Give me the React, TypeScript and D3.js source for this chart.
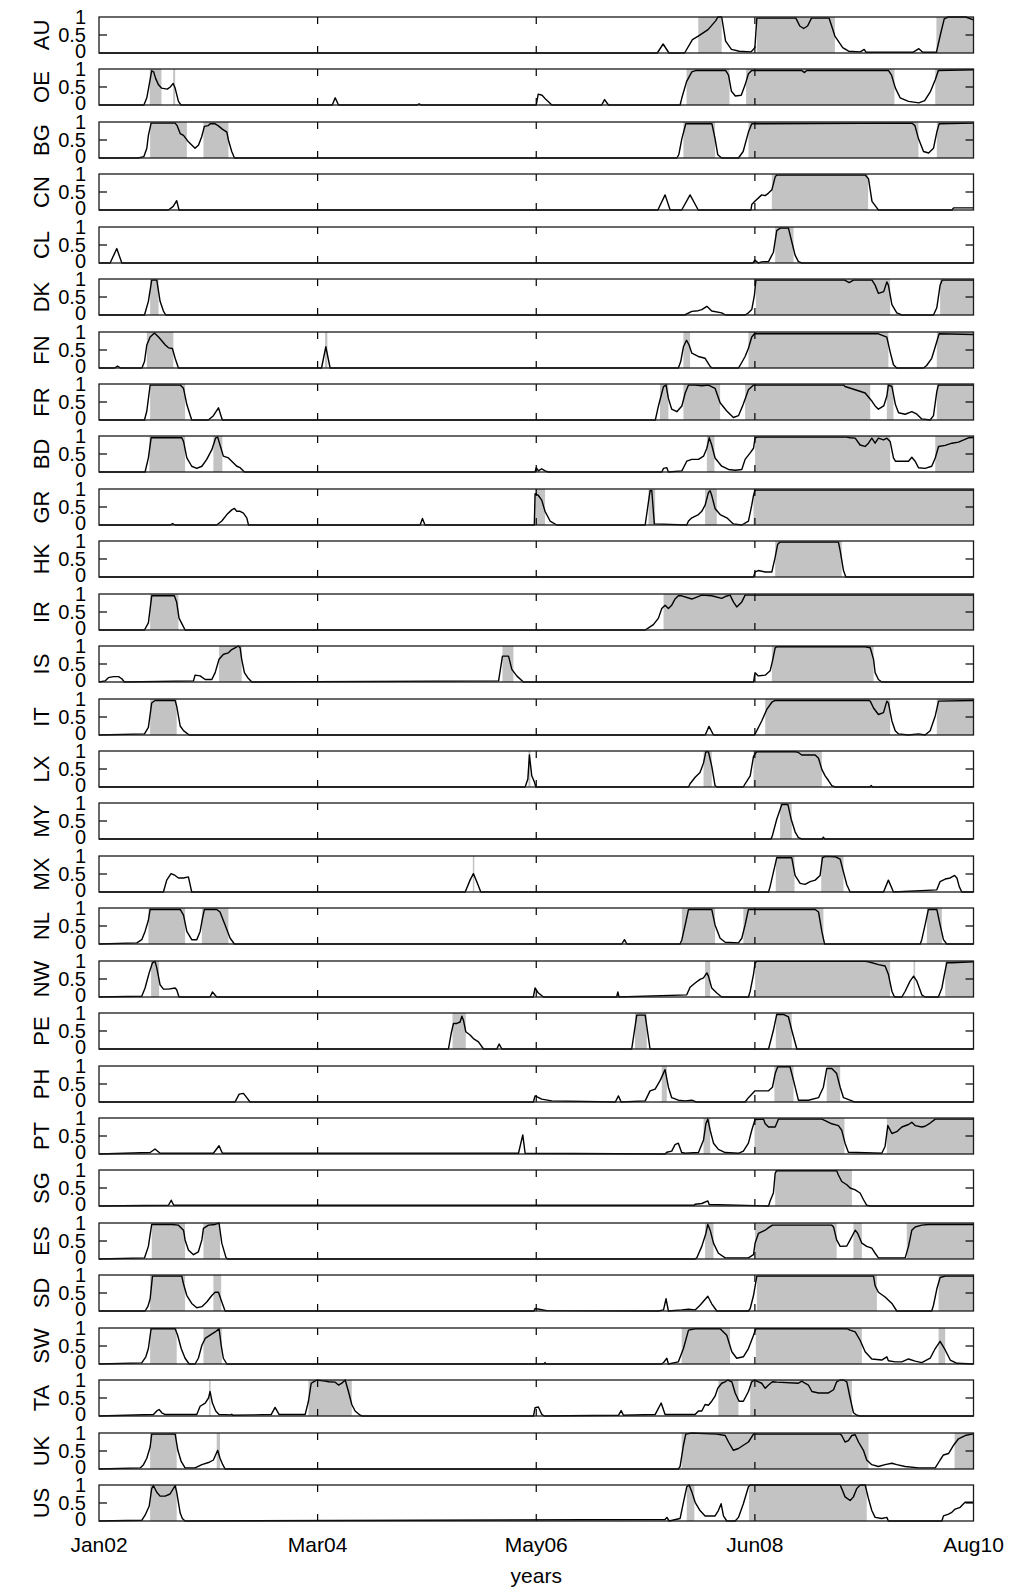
import * as d3 from 'd3'

type Pt = [number, number]
type Span = [number, number]

// x axis: weekly observations, Jan 2002 .. Aug 2010
const nWeeks = 448
const tickWeeks = [0, 112, 224, 336, 448]
const tickLabels = ['Jan02', 'Mar04', 'May06', 'Jun08', 'Aug10']
const yTicks = [0, 0.5, 1]
const yTickLabels = ['0', '0.5', '1']

const countries = ['AU', 'OE', 'BG', 'CN', 'CL', 'DK', 'FN', 'FR', 'BD', 'GR', 'HK', 'IR', 'IS', 'IT', 'LX', 'MY', 'MX', 'NL', 'NW', 'PE', 'PH', 'PT', 'SG', 'ES', 'SD', 'SW', 'TA', 'UK', 'US']

// smoothed probability, [week, prob]
const AU: Pt[] = [[0,0],[286,0],[289,0.25],[292,0],[300,0],[304,0.37],[307,0.47],[312,0.65],[316,0.9],[317,1],[319,1],[321,0.33],[324,0.1],[328,0.05],[334,0.03],[336,0.15],[337,0.97],[357,0.97],[359,0.75],[361,0.68],[363,0.75],[365,0.97],[374,0.97],[377,0.47],[381,0.15],[384,0.05],[390,0.03],[392,0.1],[393,0.02],[417,0.02],[420,0.12],[422,0.02],[429,0.02],[431,0.5],[433,0.95],[435,1],[444,1],[448,0.92]]
const OE: Pt[] = [[0,0],[23,0],[24.5,0.2],[26,0.65],[27,0.95],[28,0.92],[29,0.74],[30.5,0.56],[32,0.47],[35,0.44],[36.5,0.5],[38,0.6],[39,0.47],[40.7,0.1],[42,0],[119.5,0],[121,0.2],[122.7,0],[163,0],[164,0.03],[165,0],[224,0],[225,0.3],[227,0.27],[229,0.15],[232,0],[257.5,0],[259,0.15],[261,0],[297.7,0],[298.6,0.2],[301,0.65],[303.7,0.92],[306,0.96],[321,0.96],[322.5,0.83],[324,0.38],[326,0.25],[329,0.27],[331,0.56],[332.7,0.87],[334.4,0.96],[360,0.96],[361.4,0.9],[362.6,0.96],[404.4,0.96],[406,0.83],[408,0.47],[410.4,0.2],[414.7,0.1],[420,0.06],[423,0.12],[426,0.38],[428.4,0.7],[430,0.96],[448,0.98]]
const BG: Pt[] = [[0,0],[20,0],[23,0.04],[24.5,0.27],[25.3,0.63],[26.7,0.97],[39,0.97],[40,0.9],[41.6,0.68],[43.3,0.63],[45.8,0.45],[49.2,0.27],[51,0.36],[52.6,0.59],[54,0.88],[56,0.9],[57,0.95],[59.5,0.95],[61,0.9],[63,0.81],[65.5,0.72],[66.3,0.5],[68,0.18],[69.4,0],[296,0],[297,0.09],[298.6,0.54],[300.6,0.95],[314,0.95],[315.6,0.54],[317,0.09],[319,0],[327.6,0],[330,0.18],[332.7,0.72],[334.4,0.95],[416.4,0.97],[418,0.9],[419.8,0.54],[422.4,0.18],[425,0.14],[427.5,0.27],[429.2,0.72],[430.4,0.95],[448,0.97]]
const CN: Pt[] = [[0,0],[35.6,0],[38,0.1],[39.8,0.26],[41,0],[286.3,0],[290,0.42],[292.6,0],[298.5,0],[302.8,0.42],[307,0],[334,0],[334.4,0.15],[336,0.24],[339.5,0.42],[341.3,0.4],[343,0.47],[344.7,0.56],[346.4,0.92],[347.2,0.97],[392.5,0.97],[394.2,0.87],[396,0.24],[398.5,0.06],[399.3,0],[437,0],[437.8,0.06],[448,0.06]]
const CL: Pt[] = [[0,0],[5.7,0],[9.1,0.4],[11.7,0],[335,0],[336,0.08],[337.8,0],[339.5,0.03],[343,0.04],[345.5,0.3],[347.2,0.9],[349,0.97],[353.2,0.97],[355,0.57],[356.6,0.22],[358.3,0.04],[360,0],[448,0]]
const DK: Pt[] = [[0,0],[23.3,0],[25.3,0.38],[27,0.97],[29.6,0.97],[31.3,0.38],[33,0.11],[34.2,0],[300,0],[303.7,0.1],[307,0.12],[308.8,0.15],[311.4,0.24],[312.2,0.2],[313.9,0.11],[319,0.06],[321,0],[331,0],[332.7,0.06],[334.4,0.15],[335.8,0.56],[336.5,0.97],[382,0.97],[384.3,0.9],[386.5,0.97],[396,0.97],[397.6,0.83],[399.3,0.6],[402,0.65],[403.6,0.92],[404.4,0.83],[406.2,0.29],[408.7,0.06],[411.3,0],[427.5,0],[429.2,0.2],[430.9,0.83],[432,0.97],[448,0.97]]
const FN: Pt[] = [[0,0],[8,0],[9.5,0.05],[11,0],[22,0],[23.3,0.18],[24.5,0.64],[26.2,0.86],[28.4,0.97],[30.5,0.86],[34,0.64],[35.6,0.56],[37.6,0.54],[39,0.27],[40.7,0],[114,0],[116.2,0.59],[118.4,0],[296.8,0],[298,0.18],[299.4,0.59],[301,0.77],[302.3,0.64],[303.7,0.41],[307,0.32],[310.5,0.27],[313,0.05],[314,0],[327.6,0],[328.4,0.07],[331,0.32],[332.7,0.55],[334.4,0.86],[335.8,0.95],[399.3,0.95],[403.6,0.86],[405.3,0.45],[407,0.09],[408.7,0],[422.4,0],[424,0.07],[426.6,0.27],[428.4,0.59],[430.4,0.95],[448,0.93]]
const FR: Pt[] = [[0,0],[23.3,0],[24.5,0.25],[26.2,0.97],[41.6,0.97],[43.3,0.88],[45,0.43],[47.5,0],[56,0],[58.6,0.12],[61.2,0.34],[63.2,0],[285,0],[286.6,0.39],[289.2,0.93],[290.5,0.97],[291.7,0.6],[293.4,0.3],[296,0.23],[298.6,0.39],[300.3,0.75],[302,0.97],[305.4,0.97],[308.8,0.95],[312.2,0.97],[315.6,0.88],[318.2,0.48],[321.6,0.25],[325,0.07],[327.6,0.12],[330,0.43],[332.7,0.84],[335.3,0.97],[381.4,0.97],[382.2,0.93],[387.4,0.84],[392.5,0.75],[396,0.52],[397.6,0.39],[399.3,0.3],[402,0.39],[403.6,0.66],[404.4,0.97],[406.2,0.93],[408,0.43],[409.6,0.2],[413,0.16],[416.4,0.23],[419,0.16],[421.5,0.03],[425.8,0],[427.5,0.12],[429.2,0.79],[430,0.97],[448,0.97]]
const BD: Pt[] = [[0,0],[23.6,0],[25.3,0.39],[26.7,0.95],[42.4,0.95],[43.3,0.85],[45,0.39],[47.5,0.16],[50.1,0.1],[52.7,0.16],[55.2,0.35],[57.8,0.62],[59.8,0.95],[60.8,0.97],[62,0.75],[63.7,0.44],[66.3,0.39],[68,0.3],[70.6,0.16],[72.3,0.12],[74,0.03],[74.5,0],[223.4,0],[224,0.12],[225.1,0.03],[226.8,0.09],[228.5,0.03],[230.2,0],[288.3,0],[289.2,0.1],[290.9,0.12],[291.7,0],[298.6,0.03],[301.1,0.3],[303.7,0.35],[307.1,0.35],[309.7,0.44],[311.4,0.66],[312.6,0.95],[313.9,0.75],[315.6,0.39],[319,0.16],[322.5,0.07],[325.9,0.05],[329.3,0.07],[331,0.35],[333.6,0.53],[335.3,0.66],[336.1,0.94],[337,0.97],[383,0.97],[384.8,0.95],[387.4,0.94],[389.9,0.75],[392.5,0.71],[394.2,0.8],[395.9,0.94],[397.6,0.8],[399.3,0.94],[401.9,0.89],[403.6,0.94],[405.3,0.85],[407,0.39],[408,0.3],[414.7,0.3],[416.4,0.41],[418.1,0.3],[419.8,0.12],[423.2,0.1],[426.6,0.16],[428.4,0.39],[430.1,0.71],[433.5,0.74],[437,0.8],[440.3,0.83],[443,0.89],[445.4,0.95],[448,0.96]]
const GR: Pt[] = [[0,0],[36.4,0],[37.7,0.04],[39,0],[60.3,0],[62.9,0.11],[65.5,0.29],[68,0.42],[69.4,0.46],[70.6,0.38],[72.3,0.38],[74,0.33],[75.7,0.2],[76.6,0],[164.5,0],[165.7,0.18],[167,0],[223,0],[223.4,0.87],[225.1,0.82],[226.8,0.69],[228.5,0.38],[231.1,0.11],[234.5,0],[279.8,0],[282.3,0.95],[283.2,0.95],[284.5,0.03],[301.1,0],[302,0.11],[303.7,0.2],[307.1,0.29],[308.8,0.38],[310.5,0.55],[312.2,0.9],[313.1,0.95],[313.9,0.82],[315.6,0.46],[318.2,0.29],[321.6,0.2],[325,0.03],[329.3,0],[332.7,0.11],[334.4,0.55],[335.3,0.82],[336.1,0.97],[448,0.97]]
const HK: Pt[] = [[0,0],[335.3,0],[336.1,0.14],[337.8,0.18],[341.3,0.14],[344.7,0.14],[346.4,0.55],[347.7,0.91],[348.9,0.97],[378.8,0.97],[379.7,0.73],[381.4,0.18],[382.6,0],[448,0]]
const IR: Pt[] = [[0,0],[23.3,0],[25.3,0.2],[27,0.95],[38.6,0.95],[39.8,0.77],[41,0.33],[42.7,0.15],[44.1,0],[279.8,0],[281.5,0.06],[284,0.15],[286.6,0.33],[288.3,0.6],[290,0.69],[291.7,0.6],[293.4,0.69],[295.1,0.86],[296.8,0.95],[298.5,0.95],[303.7,0.86],[308.8,0.97],[313.9,0.95],[319,0.88],[320.8,0.93],[323.3,0.97],[325,0.78],[326.7,0.64],[329.3,0.78],[331,0.97],[448,0.97]]
const IS: Pt[] = [[0,0],[3.1,0.03],[4.8,0.12],[7.4,0.15],[10,0.15],[11.7,0.09],[13,0],[48.4,0.03],[49.2,0.19],[51.8,0.17],[54.4,0.07],[57.8,0.07],[59.5,0.26],[61.5,0.63],[63.8,0.77],[66.3,0.81],[68,0.9],[69.7,0.95],[71.4,1],[72.3,0.95],[73.1,0.63],[74.5,0.26],[76.2,0.12],[78.3,0],[204.7,0.03],[206.7,0.72],[209.8,0.72],[211.5,0.35],[214,0.17],[217.4,0],[335.3,0],[336.1,0.26],[337.8,0.17],[341.3,0.19],[343.8,0.31],[345,0.58],[346.4,0.95],[347.2,0.98],[392.5,0.98],[395.1,0.95],[396.8,0.63],[397.6,0.26],[399.3,0.07],[401,0],[448,0]]
const IT: Pt[] = [[0,0],[23.3,0.03],[25.3,0.21],[27,0.89],[28.7,0.96],[39,0.96],[39.8,0.8],[41.6,0.25],[43.3,0.12],[46.2,0],[310.5,0],[310.8,0.03],[312.5,0.24],[314.8,0],[335.8,0],[337,0.12],[339.5,0.39],[342.1,0.71],[344.7,0.91],[346.4,0.96],[394.2,0.96],[395.1,0.94],[396.8,0.75],[399.3,0.57],[401.9,0.62],[403.6,0.94],[404.4,0.89],[406.2,0.39],[407.9,0.12],[409.6,0.03],[414.7,0],[419.8,0.03],[423.2,0],[425.8,0.12],[428.4,0.53],[430.1,0.94],[448,0.96]]
const LX: Pt[] = [[0,0],[218.3,0],[219.7,0.22],[220.5,0.89],[221.7,0.31],[223.1,0.13],[223.8,0],[302,0],[302.8,0.09],[305.4,0.27],[307.9,0.4],[309.7,0.67],[310.9,0.98],[312.2,0.98],[313.9,0.58],[315.6,0.04],[316.5,0],[330.1,0],[331,0.09],[333.6,0.31],[335.3,0.85],[337,0.98],[356.6,0.98],[358.3,0.96],[360,0.89],[366.9,0.89],[368.6,0.8],[370.3,0.49],[372,0.31],[373.7,0.18],[375.4,0.04],[377.1,0],[395,0],[395.6,0.04],[396.2,0],[448,0]]
const MY: Pt[] = [[0,0],[344.3,0],[345,0.1],[347.2,0.55],[349.8,0.96],[352.9,0.96],[354.6,0.55],[356.6,0.2],[358.3,0.04],[360,0],[370.5,0],[371.1,0.05],[371.7,0],[448,0]]
const MX: Pt[] = [[0,0],[33,0],[34.7,0.33],[36.9,0.51],[39,0.46],[40.7,0.39],[43.3,0.39],[45.8,0.42],[46.7,0.2],[47.5,0],[187.6,0],[190.1,0.33],[191.8,0.51],[193.5,0.29],[195.6,0],[343,0],[343.8,0.15],[345.5,0.55],[347.2,0.95],[354.9,0.95],[356.6,0.46],[359.2,0.24],[361.7,0.21],[364.3,0.29],[366.9,0.33],[369.4,0.46],[370.6,0.95],[372,0.99],[377.1,0.98],[379.7,0.91],[381.4,0.55],[383.1,0.2],[384.8,0],[401.9,0],[404.4,0.33],[407,0],[429.2,0.06],[430.9,0.29],[433.5,0.36],[436.1,0.39],[438.3,0.46],[439.5,0.39],[440.7,0.15],[442,0],[448,0]]
const NL: Pt[] = [[0,0],[19.4,0.03],[21.9,0.12],[23.6,0.35],[25.3,0.66],[26.2,0.96],[41.6,0.96],[43.3,0.8],[45,0.35],[47.5,0.12],[50.1,0.12],[51.8,0.35],[53,0.71],[54,0.96],[60.3,0.96],[62,0.89],[64.6,0.53],[67.2,0.16],[69.4,0],[267.8,0],[269.2,0.12],[270.4,0],[297.7,0],[298.6,0.12],[300.3,0.53],[302,0.96],[313.9,0.96],[315.6,0.53],[318.2,0.16],[320.8,0.05],[327.6,0.03],[329.3,0.16],[331,0.53],[332.7,0.96],[366.9,0.96],[368.6,0.89],[370.3,0.35],[371.7,0],[420.7,0],[421.5,0.12],[423.2,0.53],[424.9,0.96],[429.2,0.96],[430.9,0.53],[432.6,0.12],[434.3,0],[448,0]]
const NW: Pt[] = [[0,0],[21.9,0.02],[23.6,0.25],[25.7,0.67],[27.4,0.95],[28.7,0.99],[29.6,0.81],[31.3,0.34],[33,0.22],[35.6,0.22],[39,0.25],[39.8,0.2],[41,0],[56.9,0],[58.1,0.14],[60.3,0],[222.5,0],[223.4,0.25],[225.1,0.11],[227.7,0],[265.2,0],[265.8,0.14],[266.4,0],[301.1,0.06],[302.8,0.27],[305.4,0.39],[307.9,0.49],[309.7,0.53],[311.4,0.67],[312.2,0.58],[313.9,0.25],[316.5,0.11],[319,0],[332.7,0],[333.6,0.16],[335.3,0.63],[336.1,0.95],[337,0.99],[392.5,0.99],[394.2,0.98],[399.3,0.9],[402.7,0.86],[404.4,0.63],[406.2,0.16],[407.5,0],[411.3,0],[413,0.16],[415.5,0.44],[417.3,0.58],[419,0.44],[421.5,0.06],[423.2,0],[430,0],[431.8,0.25],[433.1,0.63],[434.3,0.95],[436.9,0.95],[448,0.98]]
const PE: Pt[] = [[0,0],[179,0],[180.4,0.43],[181.6,0.71],[183.3,0.71],[185,0.75],[185.9,0.91],[186.7,0.8],[187.9,0.48],[190.1,0.39],[191.8,0.29],[194.4,0.2],[197,0],[203.8,0],[205,0.14],[206.4,0],[272.9,0],[275.5,0.94],[279.8,0.94],[282.3,0],[343,0],[345.5,0.52],[347.2,0.96],[350.6,0.96],[353.2,0.89],[354.9,0.52],[357.5,0],[448,0]]
const PH: Pt[] = [[0,0],[69.7,0],[71.8,0.22],[74,0.24],[75.7,0.12],[77.4,0],[222.5,0],[223.4,0.17],[226.8,0.08],[231.9,0.03],[264.5,0],[266.1,0.17],[267.5,0],[279.8,0.03],[282.3,0.31],[284.9,0.36],[287.5,0.6],[290,0.9],[291.7,0.41],[293.4,0.12],[296.8,0.05],[300.3,0.03],[303.7,0.05],[306,0],[331,0],[332.7,0.12],[336.1,0.31],[343,0.31],[345,0.41],[346.4,0.79],[347.7,0.98],[354,0.98],[355.8,0.6],[358.3,0.05],[363.4,0.05],[368.6,0.12],[371.1,0.41],[372.8,0.93],[375.4,0.93],[377.9,0.79],[379.7,0.41],[381.4,0.12],[385.7,0.03],[387,0],[448,0]]
const PT: Pt[] = [[0,0],[26.2,0.04],[28.7,0.14],[31.3,0.02],[58.6,0.02],[61.5,0.23],[63.2,0.02],[214.9,0.02],[217.1,0.53],[218.3,0.02],[290,0],[290.9,0.05],[293.4,0.08],[295.1,0.26],[296.8,0.3],[298.5,0.04],[300.3,0.02],[307.1,0.04],[309.7,0.39],[310.9,0.84],[311.9,0.97],[313.1,0.66],[314.8,0.3],[317.3,0.13],[320.8,0.04],[327.6,0.02],[330.1,0.08],[332.7,0.3],[334.4,0.66],[336.1,0.96],[340.4,0.97],[341.3,0.84],[343,0.75],[346.4,0.75],[348.1,0.97],[370.3,0.97],[372,0.93],[375.4,0.84],[378.8,0.79],[380.5,0.66],[382.2,0.3],[383.9,0.05],[401,0.02],[402.7,0.21],[404.1,0.79],[406.2,0.57],[408.7,0.62],[411.3,0.75],[414.7,0.82],[416.4,0.88],[418.1,0.79],[421.5,0.75],[423.2,0.77],[425.8,0.86],[428.4,0.97],[448,0.97]]
const SG: Pt[] = [[0,0],[35.6,0.02],[37,0.16],[38.3,0.02],[305,0.02],[305.4,0.05],[308.8,0.07],[311.9,0.14],[312.6,0.04],[343,0],[343.8,0.14],[345.5,0.36],[346.4,0.91],[347.2,0.98],[377.9,0.98],[378.8,0.86],[380.5,0.68],[383.1,0.59],[384.8,0.5],[387.4,0.45],[389.9,0.36],[391.6,0.18],[393.3,0.02],[395,0],[448,0]]
const ES: Pt[] = [[0,0],[23.3,0.03],[25.3,0.35],[27,0.96],[37.3,0.96],[40.7,0.94],[43.3,0.8],[44.1,0.53],[45.8,0.25],[48.4,0.12],[50.9,0.2],[52.7,0.53],[53.5,0.85],[56.1,0.94],[59.5,0.96],[61.5,1],[62.9,0.44],[65.1,0.03],[66,0],[305.4,0],[306.2,0.03],[308.8,0.35],[310.9,0.71],[311.9,0.96],[313.1,0.8],[314.8,0.44],[317.3,0.16],[320.8,0.03],[332.7,0.03],[335.3,0.12],[336.1,0.44],[337.8,0.71],[341.3,0.8],[343,0.87],[345,0.94],[375.4,0.94],[376.3,0.89],[377.9,0.53],[379.7,0.35],[383.1,0.36],[384.8,0.53],[387.4,0.8],[388.7,0.71],[390.8,0.44],[393.3,0.35],[395.9,0.3],[397.6,0.16],[399.3,0.03],[413,0.03],[414.7,0.35],[416.4,0.8],[418.1,0.89],[421.5,0.94],[424.9,0.96],[448,0.96]]
const SD: Pt[] = [[0,0],[23.6,0],[25,0.12],[26.2,0.34],[27.4,0.97],[42.4,0.97],[43.3,0.75],[45,0.43],[47.5,0.21],[50.1,0.09],[52.7,0.12],[55.2,0.25],[57.8,0.43],[59.5,0.52],[61.2,0.52],[62.6,0.3],[64.6,0],[222.8,0],[223.4,0.07],[229.4,0.01],[286.6,0],[289.2,0.03],[290.5,0.34],[291.7,0],[298.5,0.03],[302,0.05],[305.4,0.03],[307.9,0.16],[311.9,0.41],[313.9,0.2],[316.5,0],[332.7,0],[333.6,0.07],[335.3,0.43],[337,0.97],[396.8,0.97],[397.6,0.7],[399.3,0.52],[402.7,0.39],[406.2,0.21],[408.7,0],[426.6,0],[427.5,0.16],[429.2,0.61],[430.9,0.93],[433.5,0.97],[448,0.97]]
const SW: Pt[] = [[0,0],[21.9,0.03],[24,0.2],[25.3,0.43],[26.7,0.98],[39,0.98],[40.3,0.8],[42.1,0.43],[44.1,0.16],[46.2,0],[49.2,0],[50.9,0.16],[52.7,0.52],[54.4,0.71],[56.9,0.8],[59.5,0.89],[61.5,0.98],[62.6,0.52],[63.7,0.16],[65.5,0],[228,0],[228.5,0.04],[229,0],[288.3,0],[289.2,0.04],[290.9,0.16],[291.7,0],[296.8,0.06],[299.4,0.43],[302,0.94],[305.4,0.98],[318.2,0.98],[321.6,0.8],[324.2,0.34],[326.7,0.16],[330.1,0.2],[332.7,0.43],[335.3,0.8],[336.5,0.98],[383.1,0.98],[384.8,0.94],[387.4,0.89],[389.9,0.66],[392.5,0.34],[395.9,0.14],[401,0.11],[403.6,0.2],[404.4,0.09],[407.9,0.06],[411.3,0.06],[414.7,0.14],[418.1,0.08],[421.5,0.04],[425.8,0.16],[428.4,0.43],[430.9,0.63],[433.5,0.39],[436.1,0.11],[439.5,0.02],[448,0]]
const TA: Pt[] = [[0,0],[27.9,0.04],[29.6,0.14],[30.8,0.18],[32.2,0.09],[33.9,0.04],[50.1,0.04],[51.8,0.27],[54.4,0.36],[56.1,0.5],[56.9,0.68],[58.1,0.36],[59.8,0.14],[61.5,0.04],[67.5,0.03],[68,0.05],[68.5,0.02],[88.2,0.04],[90.2,0.24],[92.3,0.04],[105.6,0.04],[107.3,0.41],[108.7,0.91],[109.9,0.95],[111.6,1],[115.8,0.97],[117.6,0.95],[121,0.94],[122.7,0.86],[124.4,0.91],[126.1,1],[127.8,0.68],[129.5,0.32],[131.2,0.14],[133.8,0.02],[135,0],[222.6,0],[223.4,0.23],[225.1,0.25],[226.8,0.05],[228,0],[266.1,0.02],[267.5,0.15],[268.7,0.02],[284.9,0.04],[288,0.36],[290,0.04],[305.4,0.04],[307.1,0.14],[308.8,0.14],[310.5,0.32],[312.2,0.3],[313.9,0.41],[315.6,0.55],[317,0.77],[319,0.91],[320.8,0.95],[322.1,1],[324.2,0.95],[325.9,0.64],[327.9,0.41],[330.1,0.41],[332.7,0.68],[334.4,0.95],[335.8,1],[337.8,0.95],[339.5,0.91],[341.3,0.77],[343,0.86],[345,0.95],[347.2,0.94],[358.3,0.91],[360,0.97],[361.7,0.91],[363.4,0.86],[365.2,0.68],[368.6,0.64],[373.7,0.64],[376.3,0.73],[377.9,0.95],[379.7,1],[381.4,1],[383.1,0.95],[384.8,0.5],[386.5,0.09],[388.2,0.02],[390,0],[448,0]]
const UK: Pt[] = [[0,0],[21.1,0.03],[22.8,0.12],[24.5,0.3],[26.2,0.61],[27,0.97],[39,0.97],[40.4,0.52],[42.1,0.21],[44.1,0.03],[49.2,0.03],[52.7,0.12],[56.1,0.18],[58.6,0.25],[60.8,0.52],[62,0.3],[63.4,0.12],[64.6,0],[296.8,0],[297.7,0.07],[299.4,0.66],[300.6,0.97],[303.7,1],[316.5,0.97],[320.8,0.93],[322.5,0.75],[325,0.52],[327.6,0.57],[330.1,0.66],[332.7,0.75],[335.3,0.97],[379.7,0.97],[380.5,0.93],[382.2,0.75],[383.9,0.79],[385.7,0.93],[387.4,0.95],[389.1,0.75],[391.6,0.52],[393.3,0.25],[395.9,0.12],[399.3,0.07],[402.7,0.12],[406.2,0.16],[408.7,0.12],[413,0.07],[419.8,0.03],[428.4,0.03],[430.9,0.25],[432.6,0.39],[435.2,0.43],[437.8,0.66],[440.3,0.84],[443.7,0.93],[447.1,0.97],[448,0.97]]
const US: Pt[] = [[0,0],[21.9,0.02],[23.6,0.16],[25.7,0.41],[27,0.9],[27.9,0.98],[29.6,0.8],[31.3,0.69],[33.9,0.69],[36.4,0.75],[39,0.98],[39.8,0.8],[41.6,0.22],[42.7,0.07],[44.1,0],[290,0.04],[290.9,0.1],[292.1,0],[297.7,0.07],[299.4,0.52],[301.1,0.95],[302.3,1],[303.7,0.81],[305.4,0.52],[307.9,0.29],[310.5,0.14],[313.1,0.14],[315.6,0.14],[317.3,0.29],[318.7,0.48],[319.9,0.14],[321.6,0],[325.9,0],[327.6,0.1],[330.1,0.48],[332.7,0.95],[333.6,1],[379.7,1],[380.5,0.9],[382.2,0.67],[384.8,0.57],[386.5,0.67],[388.2,0.9],[389.9,1],[392.5,1],[394.2,0.62],[395.9,0.29],[397.6,0.1],[401,0.07],[403.6,0.1],[404.4,0],[431.8,0],[432.6,0.14],[435.2,0.19],[436.9,0.24],[438.6,0.33],[441.2,0.38],[442.9,0.48],[443.7,0.52],[448,0.52]]

// classified regime periods, [fromWeek, toWeek]
const AU_reg: Span[] = [[307,319],[337,377],[429,448]]
const OE_reg: Span[] = [[26,32],[38,39],[301,323],[331.5,407.5],[428.4,448]]
const BG_reg: Span[] = [[26.2,45],[53.5,66.3],[299.4,315.6],[332.7,419.8],[429.2,448]]
const CN_reg: Span[] = [[344.7,394]]
const CL_reg: Span[] = [[346.4,355.8]]
const DK_reg: Span[] = [[26.2,30.5],[336.5,405.3],[430.9,448]]
const FN_reg: Span[] = [[24.5,38.1],[115.8,117],[299.4,302.8],[332.7,404.4],[429.2,448]]
const FR_reg: Span[] = [[26.2,44.1],[287.4,291.7],[299.4,318.2],[331,395.1],[403.6,407],[429.2,448]]
const BD_reg: Span[] = [[25.8,44.1],[58.6,63.2],[311.4,315.3],[336.1,405.3],[428.4,448]]
const GR_reg: Span[] = [[223.4,228.5],[281.5,284.9],[310.5,316.5],[335.3,448]]
const HK_reg: Span[] = [[346.4,380.5]]
const IR_reg: Span[] = [[26.2,40.7],[289.2,448]]
const IS_reg: Span[] = [[61.5,73.1],[206.7,212.3],[344.7,396.8]]
const IT_reg: Span[] = [[26.2,39.8],[341.3,405.3],[429.2,448]]
const LX_reg: Span[] = [[220,221],[309.7,313.9],[335.3,370.3]]
const MY_reg: Span[] = [[348.9,354.9]]
const MX_reg: Span[] = [[191.5,192.1],[346.7,356.3],[370,381.4]]
const NL_reg: Span[] = [[25.3,44.1],[52.7,66.3],[298.6,315.6],[330.1,371.1],[424.1,431.8]]
const NW_reg: Span[] = [[26.7,30.8],[310.5,313.1],[336.1,405.3],[417.3,418.1],[433.5,448]]
const PE_reg: Span[] = [[181.1,187.9],[274.6,280.6],[346.7,354.9]]
const PH_reg: Span[] = [[288.3,290.9],[346,355.8],[372.8,379.7]]
const PT_reg: Span[] = [[309.7,313.1],[335.8,381.9],[403.6,448]]
const SG_reg: Span[] = [[346.4,385.7]]
const ES_reg: Span[] = [[27,44.1],[53.5,62],[310.5,314.8],[336.1,377.9],[386.5,390.8],[413.8,448]]
const SD_reg: Span[] = [[26.2,44.1],[58.6,62.6],[337,398.5],[430.1,448]]
const SW_reg: Span[] = [[26.2,39.8],[53.5,62.9],[298.5,323.3],[336.5,390.8],[430.1,433.5]]
const TA_reg: Span[] = [[56.4,57.1],[107.3,129.5],[317.3,327.6],[333.6,385.7]]
const UK_reg: Span[] = [[26.2,39.8],[60.3,62],[298.5,394.2],[438.3,448]]
const US_reg: Span[] = [[26.2,39.8],[301.1,305],[333,393.3]]

const probs = [AU, OE, BG, CN, CL, DK, FN, FR, BD, GR, HK, IR, IS, IT, LX, MY, MX, NL, NW, PE, PH, PT, SG, ES, SD, SW, TA, UK, US]
const regimes = [AU_reg, OE_reg, BG_reg, CN_reg, CL_reg, DK_reg, FN_reg, FR_reg, BD_reg, GR_reg, HK_reg, IR_reg, IS_reg, IT_reg, LX_reg, MY_reg, MX_reg, NL_reg, NW_reg, PE_reg, PH_reg, PT_reg, SG_reg, ES_reg, SD_reg, SW_reg, TA_reg, UK_reg, US_reg]

const width = 1013
const height = 1596
const left = 99
const right = 973.5
const top0 = 17
const step = 52.43
const panelH = 36
const font = "'Liberation Sans', Arial, sans-serif"

const App = () => {
  const x = d3.scaleLinear().domain([0, nWeeks]).range([left, right])
  const y = d3.scaleLinear().domain([0, 1]).range([panelH, 0])
  const line = d3.line<Pt>().x((d) => x(d[0])).y((d) => y(d[1]))
  const lastBottom = Math.round(top0 + (countries.length - 1) * step) + panelH

  return (
    <svg
      width={width}
      height={height}
      style={{ position: 'absolute', left: 0, top: 0, background: '#fff' }}
      fontFamily={font}
    >
      {countries.map((c, i) => {
        const t = Math.round(top0 + i * step)
        return (
          <g key={c} transform={`translate(0,${t})`}>
            <rect x={left} y={0} width={right - left} height={panelH} fill="#fff" />
            {regimes[i].map(([a, b], j) => (
              <rect
                key={j}
                x={x(a)}
                y={0}
                width={Math.max(x(b) - x(a), 1.5)}
                height={panelH}
                fill="#c3c3c3"
              />
            ))}
            <path d={line(probs[i]) ?? ''} fill="none" stroke="#000" strokeWidth={1.4} strokeLinejoin="round" />
            {tickWeeks.slice(1, -1).map((w) => (
              <g key={w} stroke="#000" strokeWidth={1.2}>
                <line x1={x(w)} x2={x(w)} y1={0} y2={7} />
                <line x1={x(w)} x2={x(w)} y1={panelH - 7} y2={panelH} />
              </g>
            ))}
            <g stroke="#000" strokeWidth={1.2}>
              <line x1={left} x2={left + 8} y1={y(0.5)} y2={y(0.5)} />
              <line x1={right - 8} x2={right} y1={y(0.5)} y2={y(0.5)} />
            </g>
            <rect x={left} y={0} width={right - left} height={panelH} fill="none" stroke="#1a1a1a" strokeWidth={1.3} />
            {yTicks.map((v, k) => (
              <text
                key={v}
                x={left - 13}
                y={y(v) + (v === 0 ? -2 : 0)}
                textAnchor="end"
                dominantBaseline="central"
                fontSize={20}
                fill="#000"
              >
                {yTickLabels[k]}
              </text>
            ))}
            <text
              transform={`translate(41,${panelH / 2}) rotate(-90)`}
              textAnchor="middle"
              dominantBaseline="central"
              fontSize={22}
              fill="#000"
            >
              {c}
            </text>
          </g>
        )
      })}
      {tickWeeks.map((w, k) => (
        <text key={w} x={x(w)} y={lastBottom + 31} textAnchor="middle" fontSize={21} fill="#000">
          {tickLabels[k]}
        </text>
      ))}
      <text x={(left + right) / 2} y={lastBottom + 62} textAnchor="middle" fontSize={21} fill="#000">
        years
      </text>
    </svg>
  )
}

export default App
